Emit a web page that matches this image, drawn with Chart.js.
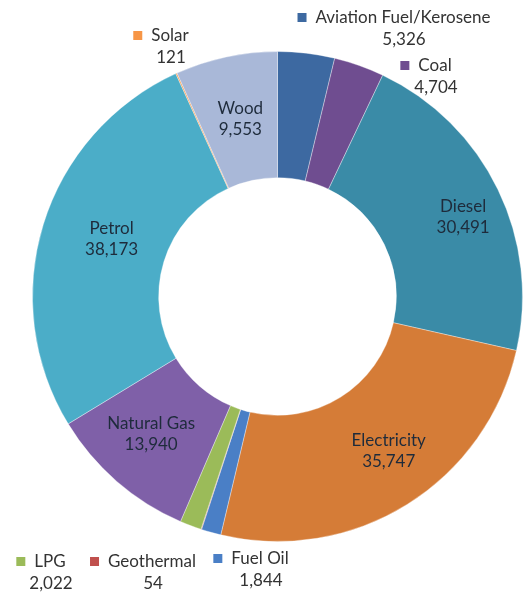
<!DOCTYPE html>
<html>
<head>
<meta charset="utf-8">
<script src="https://cdn.jsdelivr.net/npm/chart.js@4/dist/chart.umd.min.js"></script>
<style>
  html, body { margin: 0; padding: 0; background: #ffffff; }
  #wrap { width: 528px; height: 592px; position: relative; }
</style>
</head>
<body>
<div id="wrap"><canvas id="c" width="528" height="592"></canvas></div>
<script>
// ---- data ----
const categories = ["Aviation Fuel/Kerosene", "Coal", "Diesel", "Electricity", "Fuel Oil", "Geothermal", "LPG", "Natural Gas", "Petrol", "Solar", "Wood"];
const values = [5326, 4704, 30491, 35747, 1844, 54, 2022, 13940, 38173, 121, 9553];
const colors = ["#3d69a1", "#6f4d90", "#3a8ba7", "#d57c37", "#4a7fc6", "#c0504d", "#9bbb59", "#7f60a8", "#4badc8", "#f79646", "#a9b8d8"];

// labels drawn inside their slice (nudges in px)
const insideLabels = {
  "Diesel": [22, 0],
  "Electricity": [15, 0],
  "Natural Gas": [-7, 0],
  "Petrol": [8, -4],
  "Wood": [1, 0]
};
// callout labels (name centre x, name middle y)
const outsideLabels = {
  "Aviation Fuel/Kerosene": [403, 18],
  "Coal": [435, 66],
  "Solar": [170, 36],
  "LPG": [50, 562],
  "Geothermal": [152, 562],
  "Fuel Oil": [260, 559]
};

const fmt = v => v.toLocaleString("en-US");
const FONT = '17px Lato, "Open Sans", sans-serif';

const labelPlugin = {
  id: "sliceLabels",
  afterDatasetsDraw(chart) {
    const ctx = chart.ctx;
    const meta = chart.getDatasetMeta(0);
    const labels = chart.data.labels;
    const data = chart.data.datasets[0].data;
    ctx.save();
    ctx.font = FONT;
    ctx.textAlign = "center";
    ctx.textBaseline = "middle";
    labels.forEach((lab, i) => {
      const txt = fmt(data[i]);
      if (insideLabels[lab]) {
        const p = meta.data[i].getCenterPoint();
        const [dx, dy] = insideLabels[lab];
        ctx.fillStyle = "#1e2b3b";
        ctx.fillText(lab, p.x + dx, p.y + dy - 10.5);
        ctx.fillText(txt, p.x + dx, p.y + dy + 10.5);
      } else if (outsideLabels[lab]) {
        const [x, y] = outsideLabels[lab];
        const w = ctx.measureText(lab).width;
        ctx.fillStyle = colors[i];
        ctx.fillRect(x - w / 2 - 18, y - 5, 9, 9);
        ctx.fillStyle = "#333333";
        ctx.fillText(lab, x, y);
        ctx.fillText(txt, x + 1, y + 22);
      }
    });
    ctx.restore();
  }
};

new Chart(document.getElementById("c"), {
  type: "doughnut",
  data: {
    labels: categories,
    datasets: [{
      data: values,
      backgroundColor: colors,
      borderColor: "rgba(255,255,255,0.35)",
      borderWidth: 1
    }]
  },
  options: {
    responsive: false,
    animation: false,
    cutout: "48.5%",
    layout: { padding: { left: 32, right: 5, top: 51, bottom: 50 } },
    plugins: {
      legend: { display: false },
      tooltip: { enabled: false }
    }
  },
  plugins: [labelPlugin]
});
</script>
</body>
</html>
